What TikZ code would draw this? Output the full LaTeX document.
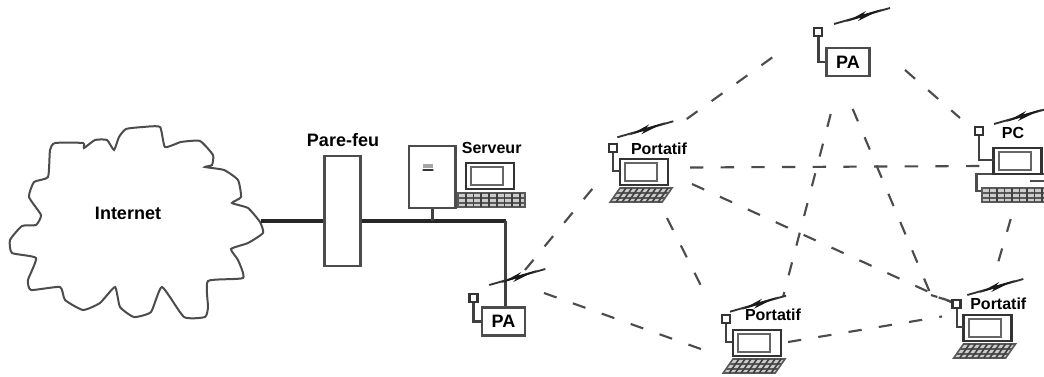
\documentclass[tikz,border=0pt]{standalone}
\usepackage{fontspec}
\setmainfont{Liberation Sans}
\usetikzlibrary{calc}

\tikzset{
    caption/.style={font=\bfseries\fontsize{#1}{#1}\selectfont, fill=white, inner sep=1pt},
    outline/.style={draw=black!70, line width=1.6pt},
    backbone/.style={draw=black!85, line width=3pt},
    feed/.style={draw=black!75, line width=1.9pt},
    radiolink/.style={draw=black!70, line width=1.6pt, dash pattern=on 10pt off 13pt},
    accessbox/.style={outline, line width=1.8pt, fill=white, minimum width=32pt, minimum height=21pt, inner sep=0pt,
        font=\bfseries\fontsize{13.5}{13.5}\selectfont},
    antenna/.style={draw=black!80, line width=1.6pt, fill=white, minimum size=6pt, inner sep=0pt},
    bolt/.pic={
        \draw[black!80, line width=1.4pt] (0,0) -- (56,-16);
        \fill[black!90] (12,-2) -- (32,-13) -- (29,-9.5) -- (48,-15) -- (24,-3) -- (27,-6.5) -- cycle;
    },
    keyboard/.pic={
        \draw[draw=black!65, line width=1.2pt, fill=black!20] (0,0) rectangle (52,14);
        \draw[black!65, line width=1.1pt] (0,5) -- (52,5) (0,10) -- (52,10);
        \foreach \k in {6,12,...,48}
            \draw[black!75, line width=1.2pt] (\k,0) -- (\k,14);
    },
    screen/.pic={
        \draw[draw=black!80, line width=1.9pt, fill=white] (0,0) rectangle (48,26);
        \draw[draw=black!60, line width=1.5pt] (5,4) rectangle (37,22);
    },
    laptop/.pic={
        \pic at (0,0) {screen};
        \pic[xslant=0.7] at (0,29) {keyboard};
        \node[antenna] (aerial) at (-7,-11) {};
        \draw[feed, line width=1.5pt] (aerial) |- (0,12);
    }
}

\begin{document}
\begin{tikzpicture}[x=0.75pt, y=-0.75pt]
    \useasboundingbox (0,0) rectangle (1044,377);

    % Cloud
    \draw[outline, line width=1.5pt, fill=white] plot[smooth cycle, tension=0.3] coordinates {
        (55,143) (83,143) (84,148) (95,140) (107,140) (114,150) (119,137) (126,129)
        (143,127) (160,127) (165,147) (181,142) (200,141) (213,155) (212,165) (205,167)
        (224,170) (238,180) (241,197) (232,203) (248,208) (260,222) (263,233) (248,243)
        (231,249) (238,260) (243,278) (208,281) (208,307) (205,317) (184,317) (162,287)
        (151,312) (134,317) (120,307) (115,287) (100,303) (83,310) (65,300) (60,287)
        (31,290) (28,280) (36,258) (12,253) (10,240) (22,226) (36,225) (41,215)
        (29,197) (34,182) (48,177) (50,150)};
    \node[caption=13.5] (internet) at (128,213) {Internet};
    \coordinate (cloudport) at (261,221);
    \coordinate (corner) at (505.5,221);

    % Firewall and server
    \node[outline, minimum width=27pt, minimum height=82.5pt] (parefeu) at (342.5,211) {};
    \node[caption=13.5] (parefeulabel) at (343,140.5) {Pare-feu};
    \node[outline, line width=2pt, minimum width=35pt, minimum height=46.5pt] (serverbox) at (432.3,177) {};
    \node[draw=black!80, line width=1.6pt, minimum width=8pt, minimum height=0pt, inner sep=0pt] (vent) at (428,170) {};
    \node[fill=black!35, minimum width=8pt, minimum height=2.5pt, inner sep=0pt] (vent2) at (428,166) {};
    \pic at (466,163) {screen};
    \pic[xscale=1.29] at (458,193) {keyboard};
    \node[caption=12] (serveur) at (491.7,148.3) {Serveur};

    % Access points
    \node[accessbox] (pa1) at (503.5,321.5) {PA};
    \node[accessbox] (pa2) at (848,62) {PA};
    \node[antenna] (ant1) at (473.5,298) {};
    \node[antenna] (ant2) at (818.3,32) {};
    \draw[feed] (ant1) |- (pa1.west);
    \draw[feed] (ant2) |- (pa2.west);

    % Wired links
    \draw[backbone] (cloudport) -- (cloudport -| parefeu.west);
    \draw[backbone] (cloudport -| parefeu.east) -- (corner);
    \draw[feed] (corner) -- (corner |- pa1.north);
    \draw[feed] (serverbox.south) -- (serverbox.south |- corner);

    % Ends of the radio links
    \coordinate (a1) at (525,270);   \coordinate (b1) at (598,182);
    \coordinate (a2) at (686.7,119); \coordinate (b2) at (784,49);
    \coordinate (a3) at (905,70);    \coordinate (b3) at (960,118);
    \coordinate (a4) at (690,167.5); \coordinate (b4) at (983,166);
    \coordinate (a5) at (692,184);   \coordinate (b5) at (953,303);
    \coordinate (a6) at (667,218);   \coordinate (b6) at (706.7,297);
    \coordinate (a7) at (830.7,114); \coordinate (b7) at (783,297);
    \coordinate (a8) at (852.7,109); \coordinate (b8) at (931,295);
    \coordinate (a9) at (788,342);   \coordinate (b9) at (942,316.5);
    \coordinate (a10) at (544,293);  \coordinate (b10) at (712,353);
    \coordinate (a11) at (1010.7,219); \coordinate (b11) at (995,273);

    % Radio links
    \foreach \i in {1,...,11}
        \draw[radiolink] (a\i) -- (b\i);
    \draw[radiolink, dash pattern=on 5pt off 1pt] (b8) -- (953,302);

    % Portable stations
    \pic (port1) at (620,159) {laptop};
    \pic (port2) at (733,330) {laptop};
    \pic (port3) at (963.5,315) {laptop};
    \node[caption=12] (port1label) at (659,148.3) {Portatif};
    \node[caption=12] (port2label) at (773,315) {Portatif};
    \node[caption=12] (port3label) at (998.3,303.3) {Portatif};

    % Desktop station
    \draw[outline, line width=1.9pt, fill=white] (976.7,174) rectangle (1046,191);
    \draw[black!70, line width=1.3pt] (1030,181) -- (1044,181);
    \pic at (993.5,148) {screen};
    \pic[xscale=1.25] at (982,188) {keyboard};
    \node[antenna] (ant3) at (978.7,130.7) {};
    \draw[feed, line width=1.5pt] (ant3) |- (993.5,160);
    \node[caption=12] (pclabel) at (1013,133) {PC};

    % Lightning marks
    \pic at (489.3,285) {bolt};
    \pic at (834,24) {bolt};
    \pic at (617.3,137.3) {bolt};
    \pic at (730,311.7) {bolt};
    \pic at (967.3,295) {bolt};
    \pic at (994,124) {bolt};
\end{tikzpicture}
\end{document}
